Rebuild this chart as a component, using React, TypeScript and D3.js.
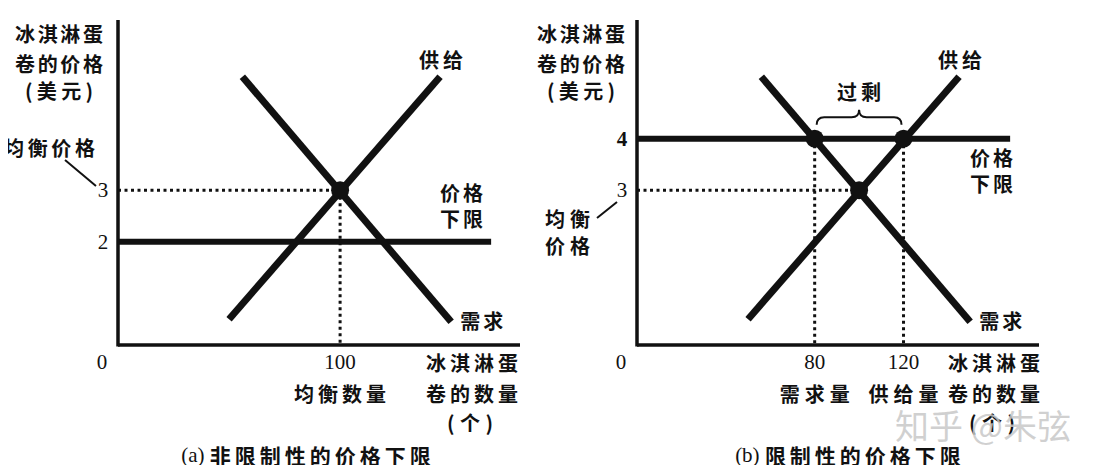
import React, { useEffect, useRef } from "react";
import * as d3 from "d3";

// values
const supplyPts = [
  { q: 50, p: 0.5 },
  { q: 145, p: 5.2 },
];
const demandPts = [
  { q: 56, p: 5.2 },
  { q: 150, p: 0.45 },
];
const eqQty = 100;
const eqPrice = 3;
const floorPrices = [2, 4];
const surplusQty = [80, 120];
const qtyTickLabels = ["100", "80", "120"];
const yTitle = ["冰淇淋蛋", "卷的价格", "(美元)"];
const xTitle = ["冰淇淋蛋", "卷的数量", "(个)"];
const captions = ["(a) 非限制性的价格下限", "(b) 限制性的价格下限"];

const CJK = "'Noto Sans CJK SC', sans-serif";
const NUM = "'Liberation Serif', 'DejaVu Serif', serif";

const App = () => {
  const svgRef = useRef<SVGSVGElement | null>(null);

  useEffect(() => {
    const width = 1098;
    const height = 473;
    const svg = d3.select(svgRef.current);
    svg.selectAll("*").remove();
    svg.attr("width", width).attr("height", height);
    svg.append("rect").attr("width", width).attr("height", height).attr("fill", "#fff");

    const x = d3.scaleLinear().domain([0, 181]).range([0, 402]);
    const y = d3.scaleLinear().domain([0, 6.3]).range([325, 0]);
    const line = d3
      .line<{ q: number; p: number }>()
      .x((d) => x(d.q))
      .y((d) => y(d.p));

    const panels = [
      { left: 118, floor: floorPrices[0], binding: false },
      { left: 637, floor: floorPrices[1], binding: true },
    ];

    const addText = (
      g: any,
      str: string,
      tx: number,
      ty: number,
      opts: { anchor?: string; size?: number; font?: string; weight?: number | string; len?: number } = {}
    ) => {
      const t = g
        .append("text")
        .attr("x", tx)
        .attr("y", ty)
        .attr("text-anchor", opts.anchor || "start")
        .attr("dominant-baseline", "central")
        .attr("font-family", opts.font || CJK)
        .attr("font-size", opts.size || 20)
        .attr("font-weight", opts.weight ?? 700)
        .attr("fill", "#111")
        .text(str);
      if (opts.len) t.attr("textLength", opts.len).attr("lengthAdjust", "spacing");
      return t;
    };

    panels.forEach((pn, i) => {
      const g = svg.append("g").attr("transform", `translate(${pn.left},20)`);

      // dotted guide lines
      const dotted = (x1: number, y1: number, x2: number, y2: number) =>
        g
          .append("line")
          .attr("x1", x1)
          .attr("y1", y1)
          .attr("x2", x2)
          .attr("y2", y2)
          .attr("stroke", "#111")
          .attr("stroke-width", 3)
          .attr("stroke-dasharray", "3 3.5");

      dotted(x(0), y(eqPrice), x(eqQty), y(eqPrice));
      if (!pn.binding) {
        dotted(x(eqQty), y(eqPrice), x(eqQty), y(0));
      } else {
        surplusQty.forEach((q) => dotted(x(q), y(pn.floor), x(q), y(0)));
      }

      // axes
      g.append("line")
        .attr("x1", x(0))
        .attr("x2", x(0))
        .attr("y1", y(6.3))
        .attr("y2", y(0) + 1.5)
        .attr("stroke", "#111")
        .attr("stroke-width", 3.5);
      g.append("line")
        .attr("x1", x(0))
        .attr("x2", x(181))
        .attr("y1", y(0))
        .attr("y2", y(0))
        .attr("stroke", "#111")
        .attr("stroke-width", 3.5);

      // price floor
      g.append("line")
        .attr("x1", x(0))
        .attr("x2", x(168))
        .attr("y1", y(pn.floor))
        .attr("y2", y(pn.floor))
        .attr("stroke", "#111")
        .attr("stroke-width", 6);

      // supply & demand
      [supplyPts, demandPts].forEach((pts) =>
        g
          .append("path")
          .attr("d", line(pts))
          .attr("fill", "none")
          .attr("stroke", "#111")
          .attr("stroke-width", 7)
      );

      // points
      const dots = pn.binding
        ? [
            { q: eqQty, p: eqPrice },
            { q: surplusQty[0], p: pn.floor },
            { q: surplusQty[1], p: pn.floor },
          ]
        : [{ q: eqQty, p: eqPrice }];
      dots.forEach((d) =>
        g.append("circle").attr("cx", x(d.q)).attr("cy", y(d.p)).attr("r", 9).attr("fill", "#111")
      );

      // axis numbers
      addText(g, "0", -16, 342, { anchor: "middle", font: NUM, weight: 400, size: 21 });
      addText(g, String(eqPrice), -15, y(eqPrice), { anchor: "middle", font: NUM, weight: 400, size: 21 });
      addText(g, String(pn.floor), -15, y(pn.floor), {
        anchor: "middle",
        font: NUM,
        weight: pn.binding ? 700 : 400,
        size: 21,
      });
      if (!pn.binding) {
        addText(g, qtyTickLabels[0], x(eqQty), 342, { anchor: "middle", font: NUM, weight: 400, size: 21 });
        addText(g, "均衡数量", x(eqQty), 373, { anchor: "middle", len: 92 });
      } else {
        addText(g, qtyTickLabels[1], x(surplusQty[0]), 342, { anchor: "middle", font: NUM, weight: 400, size: 21 });
        addText(g, qtyTickLabels[2], x(surplusQty[1]), 342, { anchor: "middle", font: NUM, weight: 400, size: 21 });
        addText(g, "需求量", x(surplusQty[0]), 373, { anchor: "middle", len: 70 });
        addText(g, "供给量", x(surplusQty[1]), 373, { anchor: "middle", len: 70 });
      }

      // axis titles
      const yTitleRight = pn.binding ? -12 : -15;
      addText(g, yTitle[0], yTitleRight, 13, { anchor: "end", len: 88 });
      addText(g, yTitle[1], yTitleRight, 43, { anchor: "end", len: 88 });
      addText(g, yTitle[2], yTitleRight - 10, 70, { anchor: "end", weight: 600, len: 68 });
      const xTitleMid = pn.binding ? 357 : 354;
      addText(g, xTitle[0], xTitleMid, 342, { anchor: "middle", len: 92 });
      addText(g, xTitle[1], xTitleMid, 373, { anchor: "middle", len: 92 });
      addText(g, xTitle[2], xTitleMid - 2, 402, { anchor: "middle", weight: 600, len: 46 });

      // curve labels
      addText(g, "供给", x(145) - 21, 39, { len: 44 });
      addText(g, "需求", x(150) + 9, y(0.45) - 1, { len: 43 });
      if (!pn.binding) {
        addText(g, "价格", 322, 172, { len: 43 });
        addText(g, "下限", 322, 198, { len: 43 });
        addText(g, "均衡价格", -114, 127, { len: 91 });
        g.append("line")
          .attr("x1", -53)
          .attr("y1", 140)
          .attr("x2", -22)
          .attr("y2", 166)
          .attr("stroke", "#111")
          .attr("stroke-width", 2);
      } else {
        addText(g, "价格", 333, 137, { len: 43 });
        addText(g, "下限", 333, 163, { len: 43 });
        addText(g, "均衡", -92, 198, { len: 45 });
        addText(g, "价格", -92, 225, { len: 45 });
        g.append("line")
          .attr("x1", -40)
          .attr("y1", 198)
          .attr("x2", -20)
          .attr("y2", 182)
          .attr("stroke", "#111")
          .attr("stroke-width", 2);

        // surplus brace
        const x1 = x(surplusQty[0]) + 2;
        const x2 = x(surplusQty[1]) - 2;
        const yb = y(pn.floor) - 14;
        const h = 15;
        const mid = (x1 + x2) / 2;
        const b = d3.path();
        b.moveTo(x1, yb);
        b.quadraticCurveTo(x1, yb - h / 2, x1 + h / 2, yb - h / 2);
        b.lineTo(mid - h / 2, yb - h / 2);
        b.quadraticCurveTo(mid, yb - h / 2, mid, yb - h);
        b.quadraticCurveTo(mid, yb - h / 2, mid + h / 2, yb - h / 2);
        b.lineTo(x2 - h / 2, yb - h / 2);
        b.quadraticCurveTo(x2, yb - h / 2, x2, yb);
        g.append("path")
          .attr("d", b.toString())
          .attr("fill", "none")
          .attr("stroke", "#111")
          .attr("stroke-width", 2);
        addText(g, "过剩", mid, yb - h - 18, { anchor: "middle", len: 44 });
      }

      // caption
      const capMid = pn.binding ? 213 : 190;
      const cap = captions[i];
      const capG = g.append("text")
        .attr("x", capMid)
        .attr("y", 435)
        .attr("text-anchor", "middle")
        .attr("dominant-baseline", "central")
        .attr("fill", "#111");
      capG.append("tspan").attr("font-family", NUM).attr("font-size", 21).text(cap.slice(0, 4));
      capG
        .append("tspan")
        .attr("font-family", CJK)
        .attr("font-size", 21)
        .attr("font-weight", 700)
        .attr("letter-spacing", 4)
        .text(cap.slice(4));
    });

    // watermark
    svg
      .append("text")
      .attr("x", 983)
      .attr("y", 424)
      .attr("text-anchor", "middle")
      .attr("dominant-baseline", "central")
      .attr("font-family", CJK)
      .attr("font-size", 34)
      .attr("fill", "#c8c8c8")
      .attr("fill-opacity", 0.85)
      .text("知乎 @朱弦");
  }, []);

  return (
    <div style={{ margin: -8 }}>
      <svg ref={svgRef} style={{ display: "block" }}></svg>
    </div>
  );
};

export default App;
